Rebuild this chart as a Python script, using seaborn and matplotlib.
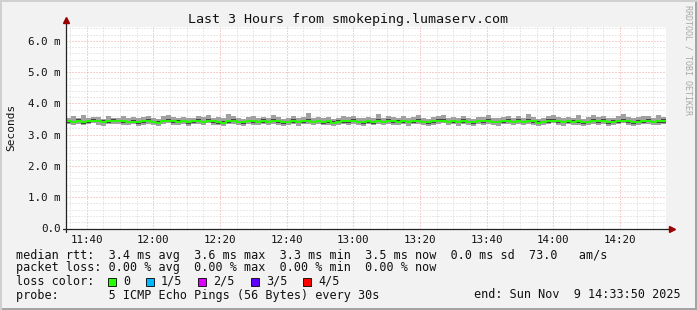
import numpy as np
import pandas as pd
import matplotlib
matplotlib.use("Agg")
import matplotlib.pyplot as plt
from matplotlib.ticker import MultipleLocator, FixedLocator
from matplotlib.patches import Rectangle
import seaborn as sns

# ---------------- data (milliseconds, 90 s steps from 11:33:50) ----------------
median_ms = [
    3.43, 3.41, 3.44, 3.40, 3.42, 3.45, 3.43, 3.41, 3.42, 3.44, 3.43, 3.42, 3.40, 3.41, 3.39,
    3.42, 3.44, 3.41, 3.38, 3.43, 3.45, 3.42, 3.41, 3.43, 3.40, 3.42, 3.44, 3.41, 3.45, 3.42,
    3.40, 3.38, 3.42, 3.44, 3.41, 3.39, 3.43, 3.42, 3.40, 3.43, 3.41, 3.44, 3.42, 3.39, 3.41,
    3.43, 3.40, 3.42, 3.44, 3.41, 3.43, 3.40, 3.42, 3.38, 3.41, 3.43, 3.42, 3.44, 3.41, 3.40,
    3.42, 3.40, 3.43, 3.41, 3.44, 3.42, 3.41, 3.43, 3.40, 3.42, 3.44, 3.41, 3.39, 3.42, 3.43,
    3.45, 3.41, 3.42, 3.40, 3.43, 3.41, 3.39, 3.43, 3.42, 3.44, 3.41, 3.40, 3.42, 3.43, 3.41,
    3.43, 3.41, 3.44, 3.42, 3.38, 3.41, 3.43, 3.45, 3.42, 3.40, 3.43, 3.41, 3.42, 3.39, 3.41,
    3.44, 3.42, 3.43, 3.40, 3.41, 3.43, 3.45, 3.42, 3.40, 3.41, 3.43, 3.44, 3.41, 3.42, 3.43,
]
smoke_max_ms = [
    3.52, 3.58, 3.54, 3.62, 3.53, 3.57, 3.55, 3.51, 3.60, 3.54, 3.52, 3.58, 3.53, 3.55, 3.52,
    3.56, 3.61, 3.53, 3.50, 3.58, 3.63, 3.55, 3.52, 3.57, 3.54, 3.52, 3.59, 3.55, 3.62, 3.54,
    3.56, 3.52, 3.66, 3.58, 3.53, 3.51, 3.56, 3.60, 3.53, 3.57, 3.52, 3.63, 3.55, 3.51, 3.53,
    3.58, 3.54, 3.56, 3.68, 3.53, 3.57, 3.52, 3.55, 3.51, 3.54, 3.59, 3.55, 3.61, 3.53, 3.52,
    3.57, 3.54, 3.65, 3.53, 3.58, 3.55, 3.52, 3.60, 3.53, 3.56, 3.62, 3.54, 3.51, 3.55, 3.58,
    3.64, 3.53, 3.56, 3.52, 3.59, 3.54, 3.51, 3.57, 3.55, 3.63, 3.53, 3.52, 3.56, 3.58, 3.54,
    3.60, 3.53, 3.66, 3.55, 3.51, 3.54, 3.58, 3.64, 3.55, 3.52, 3.57, 3.54, 3.62, 3.51, 3.55,
    3.63, 3.56, 3.58, 3.53, 3.54, 3.60, 3.65, 3.55, 3.52, 3.56, 3.61, 3.58, 3.54, 3.62, 3.56,
]
smoke_min_ms = [
    3.33, 3.30, 3.35, 3.31, 3.34, 3.36, 3.32, 3.29, 3.34, 3.35, 3.33, 3.31, 3.30, 3.33, 3.28,
    3.32, 3.35, 3.30, 3.27, 3.34, 3.36, 3.31, 3.30, 3.34, 3.29, 3.33, 3.35, 3.31, 3.36, 3.32,
    3.30, 3.26, 3.33, 3.35, 3.30, 3.29, 3.34, 3.31, 3.30, 3.34, 3.31, 3.35, 3.32, 3.28, 3.31,
    3.34, 3.29, 3.33, 3.35, 3.30, 3.34, 3.30, 3.32, 3.27, 3.30, 3.34, 3.32, 3.35, 3.31, 3.29,
    3.33, 3.30, 3.34, 3.31, 3.35, 3.32, 3.30, 3.34, 3.29, 3.33, 3.35, 3.30, 3.28, 3.32, 3.34,
    3.36, 3.30, 3.33, 3.29, 3.34, 3.31, 3.27, 3.34, 3.32, 3.35, 3.30, 3.29, 3.33, 3.34, 3.31,
    3.34, 3.30, 3.35, 3.32, 3.27, 3.31, 3.34, 3.36, 3.32, 3.29, 3.34, 3.31, 3.32, 3.28, 3.31,
    3.35, 3.32, 3.34, 3.29, 3.30, 3.34, 3.36, 3.32, 3.29, 3.30, 3.34, 3.35, 3.31, 3.32, 3.34,
]
dark_hi_ms = [
    3.48, 3.45, 3.50, 3.44, 3.47, 3.51, 3.47, 3.46, 3.47, 3.50, 3.47, 3.46, 3.45, 3.46, 3.44,
    3.48, 3.49, 3.45, 3.43, 3.48, 3.51, 3.46, 3.46, 3.48, 3.45, 3.46, 3.50, 3.45, 3.51, 3.46,
    3.45, 3.43, 3.47, 3.50, 3.45, 3.44, 3.48, 3.48, 3.44, 3.49, 3.45, 3.50, 3.46, 3.44, 3.45,
    3.49, 3.44, 3.47, 3.51, 3.45, 3.48, 3.45, 3.46, 3.43, 3.46, 3.48, 3.48, 3.49, 3.45, 3.45,
    3.47, 3.44, 3.49, 3.45, 3.50, 3.46, 3.46, 3.48, 3.45, 3.46, 3.50, 3.45, 3.44, 3.46, 3.49,
    3.51, 3.45, 3.47, 3.44, 3.49, 3.45, 3.44, 3.48, 3.47, 3.50, 3.45, 3.45, 3.46, 3.49, 3.45,
    3.49, 3.45, 3.50, 3.46, 3.43, 3.45, 3.49, 3.51, 3.46, 3.45, 3.48, 3.46, 3.47, 3.44, 3.45,
    3.50, 3.46, 3.49, 3.44, 3.46, 3.48, 3.51, 3.47, 3.44, 3.46, 3.48, 3.50, 3.45, 3.47, 3.49,
]
dark_lo_ms = [
    3.38, 3.36, 3.40, 3.35, 3.38, 3.40, 3.39, 3.36, 3.38, 3.39, 3.39, 3.37, 3.36, 3.36, 3.34,
    3.38, 3.39, 3.37, 3.33, 3.39, 3.40, 3.38, 3.36, 3.39, 3.35, 3.38, 3.39, 3.37, 3.40, 3.38,
    3.35, 3.33, 3.38, 3.39, 3.37, 3.34, 3.39, 3.37, 3.36, 3.38, 3.37, 3.39, 3.38, 3.34, 3.37,
    3.38, 3.36, 3.37, 3.40, 3.36, 3.39, 3.35, 3.38, 3.33, 3.37, 3.38, 3.38, 3.39, 3.37, 3.35,
    3.38, 3.35, 3.39, 3.36, 3.40, 3.37, 3.37, 3.38, 3.36, 3.37, 3.40, 3.36, 3.35, 3.37, 3.39,
    3.40, 3.37, 3.37, 3.36, 3.38, 3.37, 3.34, 3.39, 3.37, 3.40, 3.36, 3.36, 3.37, 3.39, 3.36,
    3.39, 3.36, 3.40, 3.37, 3.33, 3.37, 3.38, 3.41, 3.37, 3.36, 3.38, 3.37, 3.37, 3.35, 3.36,
    3.40, 3.37, 3.39, 3.35, 3.37, 3.38, 3.41, 3.38, 3.35, 3.37, 3.38, 3.40, 3.36, 3.38, 3.38,
]

start_min = 33 + 50 / 60      # minutes after 11:00 (11:33:50)
step_min = 1.5
span_min = 180

xtick_minutes = [40, 60, 80, 100, 120, 140, 160, 180, 200]
xtick_labels = ["11:40", "12:00", "12:20", "12:40", "13:00", "13:20", "13:40", "14:00", "14:20"]
ytick_values = [0, 1, 2, 3, 4, 5, 6]
ytick_labels = ["0.0", "1.0 m", "2.0 m", "3.0 m", "4.0 m", "5.0 m", "6.0 m"]

title = "Last 3 Hours from smokeping.lumaserv.com"
legend_rows = [
    "median rtt:  3.4 ms avg  3.6 ms max  3.3 ms min  3.5 ms now  0.0 ms sd  73.0   am/s",
    "packet loss: 0.00 % avg  0.00 % max  0.00 % min  0.00 % now",
    "loss color:",
    "probe:       5 ICMP Echo Pings (56 Bytes) every 30s",
]
loss_labels = ["0", "1/5", "2/5", "3/5", "4/5"]
loss_colors = ["#26ff00", "#00b8ff", "#dd00ff", "#5e00ff", "#ff0000"]
end_text = "end: Sun Nov  9 14:33:50 2025"
watermark = "RRDTOOL / TOBI OETIKER"

# ---------------- build frame ----------------
n = len(median_ms)
t = start_min + step_min * np.arange(n + 1)
def ext(a):
    return list(a) + [a[-1]]
df = pd.DataFrame({"t": t, "median": ext(median_ms), "hi": ext(smoke_max_ms),
                   "lo": ext(smoke_min_ms), "dhi": ext(dark_hi_ms), "dlo": ext(dark_lo_ms)})

sns.set_style("white")
plt.rcParams["font.family"] = ["DejaVu Sans Mono", "DejaVu Sans"]

W, H = 697, 310
fig = plt.figure(figsize=(W / 100, H / 100), dpi=100, facecolor="#f2f2f2")

def fx(x): return x / W
def fy(y): return 1 - y / H

x0, x1, ybot, ytop = 66, 666, 228.5, 27
ax = fig.add_axes([fx(x0), fy(ybot), (x1 - x0) / W, (ybot - ytop) / H])
ax.set_facecolor("white")
ax.set_xlim(start_min, start_min + span_min)
ax.set_ylim(0, 6.44)

# grid
ax.xaxis.set_major_locator(FixedLocator(xtick_minutes))
ax.xaxis.set_minor_locator(MultipleLocator(5))
ax.yaxis.set_major_locator(FixedLocator(ytick_values))
ax.yaxis.set_minor_locator(MultipleLocator(0.2))
ax.set_xticklabels(xtick_labels)
ax.set_yticklabels(ytick_labels)
ax.grid(which="minor", color="#d4d4d4", linestyle=(0, (1, 2)), linewidth=0.72)
ax.grid(which="major", color="#f2a0a0", linestyle=(0, (1, 2)), linewidth=0.72)
ax.set_axisbelow(True)
ax.tick_params(which="minor", length=0)
ax.tick_params(axis="x", which="major", length=2, width=0.72, color="#333333", pad=2.5,
               labelsize=7.8, labelcolor="#111111", direction="out")
ax.tick_params(axis="y", which="major", length=2, width=0.72, color="#333333", pad=2.0,
               labelsize=7.8, labelcolor="#111111", direction="out")
for s in ax.spines.values():
    s.set_visible(False)

# smoke + median
ax.fill_between(df["t"], df["lo"], df["hi"], step="post", color="#a0a0a0", linewidth=0, zorder=2)
ax.fill_between(df["t"], df["dlo"], df["dhi"], step="post", color="#454545", linewidth=0, zorder=3)
sns.lineplot(data=df, x="t", y="median", ax=ax, color="#26ff00", linewidth=1.4,
             drawstyle="steps-post", zorder=4, legend=False)
ax.set_xlabel("")
ax.set_ylabel("")

# axis lines with arrows
ax.plot([-3 / 600, 1 + 5 / 600], [0, 0], transform=ax.transAxes, color="#222222",
        linewidth=0.9, clip_on=False, zorder=6)
ax.plot([0, 0], [-3 / 201.5, 1 + 6 / 201.5], transform=ax.transAxes, color="#222222",
        linewidth=0.9, clip_on=False, zorder=6)
ax.plot([1 + 6 / 600], [0], marker=">", markersize=4.5, color="#990000",
        transform=ax.transAxes, clip_on=False, zorder=7)
ax.plot([0], [1 + 7 / 201.5], marker="^", markersize=4.5, color="#990000",
        transform=ax.transAxes, clip_on=False, zorder=7)

# texts
fig.text(fx(348), fy(19), title, ha="center", va="center", fontsize=9.6, color="#111111")
fig.text(fx(11), fy(127), "Seconds", rotation=90, ha="center", va="center",
         fontsize=8, color="#111111")
fig.text(fx(688), fy(5), watermark, rotation=270, ha="center", va="top",
         fontsize=6, color="#a8a8a8")

rows_y = [255, 268, 281.5, 295]
for txt, yy in zip(legend_rows, rows_y):
    fig.text(fx(16), fy(yy), txt, ha="left", va="center", fontsize=8.5, color="#111111")
fig.text(fx(681), fy(rows_y[3]), end_text, ha="right", va="center", fontsize=8.5,
         color="#111111")

bx = 108
for lab, col in zip(loss_labels, loss_colors):
    fig.patches.append(Rectangle((fx(bx), fy(rows_y[2] + 4)), 8 / W, 8 / H,
                                 transform=fig.transFigure, facecolor=col,
                                 edgecolor="#000000", linewidth=0.6))
    fig.text(fx(bx + 15), fy(rows_y[2]), lab, ha="left", va="center", fontsize=8.5,
             color="#111111")
    bx += 8 + 23 + 7.1 * len(lab)

# frame
fig.patches.append(Rectangle((0, 0), 1, 2 / H, transform=fig.transFigure,
                             facecolor="#a4a4a4", linewidth=0))
fig.patches.append(Rectangle((1 - 2 / W, 0), 2 / W, 1, transform=fig.transFigure,
                             facecolor="#a4a4a4", linewidth=0))
fig.patches.append(Rectangle((0, 1 - 2 / H), 1, 2 / H, transform=fig.transFigure,
                             facecolor="#d0d0d0", linewidth=0))
fig.patches.append(Rectangle((0, 0), 2 / W, 1, transform=fig.transFigure,
                             facecolor="#d0d0d0", linewidth=0))

fig.savefig("out.png", dpi=100, facecolor=fig.get_facecolor())
